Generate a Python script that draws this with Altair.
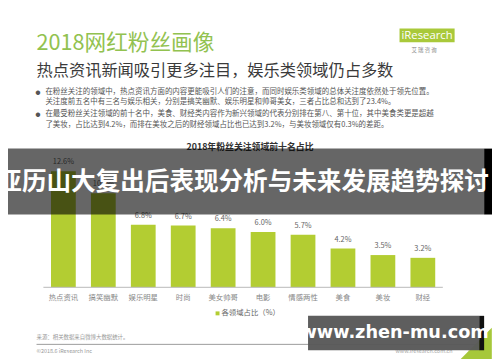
import altair as alt
import pandas as pd

categories = ["热点资讯", "搞笑幽默", "娱乐明星", "时尚", "美女帅哥", "电影", "情感两性", "美食", "美妆", "财经"]
values = [12.6, 10.2, 6.8, 6.7, 6.4, 6.0, 5.7, 4.2, 3.5, 3.2]

title_main = "2018网红粉丝画像"
title_sub = "热点资讯新闻吸引更多注目，娱乐类领域仍占多数"
bullet_lines = [
    "在粉丝关注的领域中，热点资讯方面的内容更能吸引人们的注意，而同时娱乐类领域的总体关注度依然处于领先位置。",
    "关注度前五名中有三名与娱乐相关，分别是搞笑幽默、娱乐明星和帅哥美女，三者占比总和达到了23.4%。",
    "在最受粉丝关注领域的前十名中，美食、财经类内容作为新兴领域的代表分别排在第八、第十位，其中美食类更是超越",
    "了美妆，占比达到4.2%，而排在美妆之后的财经领域占比也已达到3.2%，与美妆领域仅有0.3%的差距。",
]
chart_title = "2018年粉丝关注领域前十名占比"
legend_label = "各领域占比（%）"
source_text = "来源：相关数据来自微博大数据统计。"
copyright_text = "©2018.6 iResearch Inc"
site_text = "www.iresearch.com.cn"
page_no = "17"
overlay_text = "亚历山大复出后表现分析与未来发展趋势探讨"
watermark = "www.zhen-mu.com"

FONT = "Noto Sans CJK SC"
GREEN = "#b3cd32"
W, H = 492, 354

df = pd.DataFrame({"cat": categories, "val": values})
df["label"] = [f"{v:.1f}%" for v in values]

one = pd.DataFrame({"k": [0]})


def P(v):
    return v - 8


xs = alt.X("cat:N", sort=categories, axis=None,
           scale=alt.Scale(type="band", range=[P(44), P(450)], paddingInner=0.38, paddingOuter=0.19))
ys = alt.Y("val:Q", axis=None, scale=alt.Scale(domain=[0, 12.6], range=[P(289), P(171)]))


def txt(s, x, y, size, color="#333", weight="normal", align="left", font=FONT, baseline="middle"):
    return alt.Chart(one).mark_text(text=s, fontSize=size, color=color, fontWeight=weight,
                                    align=align, baseline=baseline, font=font).encode(
        x=alt.value(P(x)), y=alt.value(P(y)))


def rect(x1, x2, y1, y2, color, opacity=1.0):
    return alt.Chart(one).mark_rect(color=color, opacity=opacity).encode(
        x=alt.value(P(x1)), x2=alt.value(P(x2)), y=alt.value(P(y1)), y2=alt.value(P(y2)))


def hline(x1, x2, y, color, width=1):
    return alt.Chart(one).mark_rule(color=color, strokeWidth=width).encode(
        x=alt.value(P(x1)), x2=alt.value(P(x2)), y=alt.value(P(y)))


layers = []
# header
layers.append(txt(title_main, 37, 41, 22, color="#92c250"))
layers.append(txt(title_sub, 37, 69, 16.5, color="#3a3a3a"))
bullet_y = [90, 101, 113, 124]
for i, (line, yy) in enumerate(zip(bullet_lines, bullet_y)):
    layers.append(txt(line, 46, yy, 7.6, color="#555"))
    if i in (0, 2):
        layers.append(txt("●", 38.5, yy, 5, color="#555", align="center"))

# logo
layers.append(rect(406, 462, 26, 40, "#a9c93a"))
layers.append(txt("iResearch", 434, 33.5, 11.5, color="white", align="center", font="Open Sans"))
layers.append(txt("艾  瑞  咨  询", 431, 48, 5.5, color="#888", align="center"))

# chart title
layers.append(txt(chart_title, 254, 146, 9, color="#333", weight="bold", align="center"))

# bars
base = alt.Chart(df)
layers.append(base.mark_bar(color=GREEN).encode(x=xs, y=ys))
layers.append(base.mark_text(fontSize=7.5, color="#666", baseline="bottom", dy=-5, font=FONT).encode(
    x=xs, y=ys, text="label:N"))
layers.append(base.mark_text(fontSize=7.5, color="#888", baseline="middle", font=FONT).encode(
    x=xs, y=alt.value(P(300)), text="cat:N"))
layers.append(hline(44, 450, 289, "#b8b8b8"))

# legend
layers.append(rect(219, 223, 313.5, 317.5, GREEN))
layers.append(txt(legend_label, 225, 315.5, 7.5, color="#666"))

# footer
layers.append(txt(source_text, 37, 340, 5.5, color="#999"))
layers.append(hline(37, 492, 347, "#9a9a9a"))
layers.append(txt(copyright_text, 37, 353.5, 5.5, color="#999"))
layers.append(txt(site_text, 460, 353.5, 5.5, color="#aaa", align="right"))
layers.append(txt(page_no, 478, 353.5, 6, color="#bbb", align="center"))

# corner triangle
layers.append(alt.Chart(one).mark_point(shape="M 1 -1 L 1 1 L -1 1 Z", filled=True, color="#a6c83a",
                                        opacity=1, size=1000).encode(
    x=alt.value(P(484)), y=alt.value(P(346))))

# overlay band
layers.append(rect(7, 492, 148, 215, "black", 0.6))
layers.append(rect(492, 500, 148, 215, "black"))
layers.append(txt(overlay_text, 247, 182, 25, color="white", weight="bold", align="center"))

# watermark
layers.append(rect(313, 487, 318, 353, "#595959", 0.97))
layers.append(rect(487, 492, 318, 353, "#111"))
layers.append(txt(watermark, 401, 335.5, 18, color="white", weight="bold", align="center", font="DejaVu Sans"))

chart = alt.layer(*layers).properties(
    width=W, height=H,
    autosize=alt.AutoSizeParams(type="none"),
    padding=0,
).configure_view(stroke=None)

chart.save("out.html", embed_options={"renderer": "svg", "actions": False})
